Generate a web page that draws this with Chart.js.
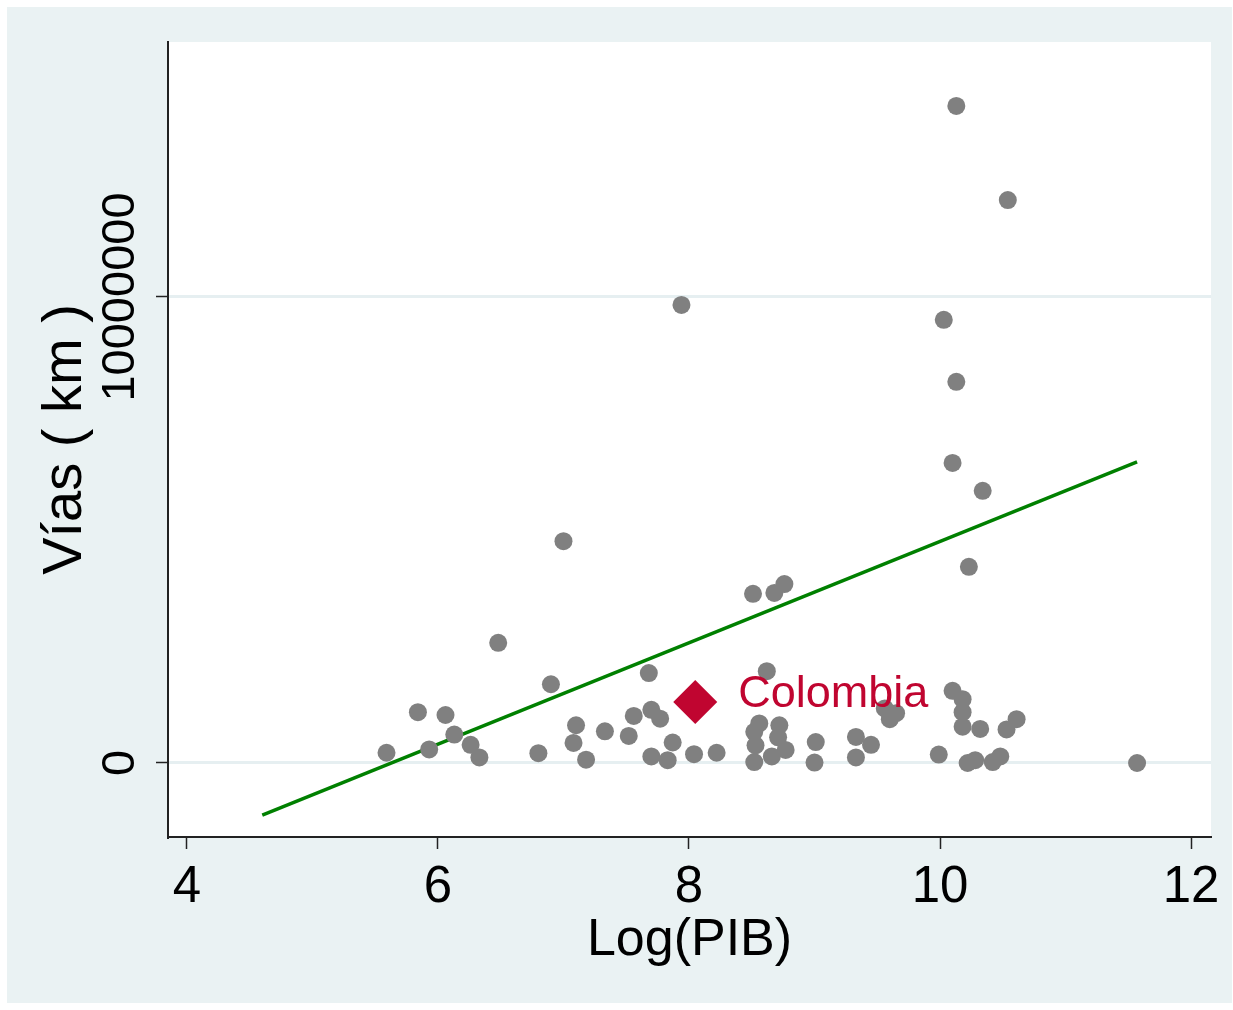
<!doctype html>
<html lang="es">
<head>
<meta charset="utf-8">
<title>Vías vs Log(PIB)</title>
<script src="https://cdn.jsdelivr.net/npm/chart.js@4.4.0/dist/chart.umd.min.js"></script>
<style>
  html, body { margin: 0; padding: 0; background: #fff; }
  canvas { display: block; }
</style>
</head>
<body>
<canvas id="myChart" width="1233" height="1010"></canvas>
<script>
// country points: log GDP vs road km
var logPib = [
  10.13, 10.54, 7.94, 10.03, 10.13, 10.10, 10.34, 7.00, 10.23, 8.51,
  8.68, 8.76, 6.48, 8.62, 7.68, 6.90, 5.59, 5.84, 5.93, 6.06,
  6.13, 6.26, 6.33, 6.80, 7.10, 7.08, 7.18, 7.33, 7.56, 7.52,
  7.70, 7.77, 7.87, 7.70, 7.83, 8.04, 8.22, 8.56, 8.52, 8.53,
  8.52, 8.72, 8.71, 8.77, 8.66, 9.01, 9.00, 9.33, 9.45, 9.33,
  9.56, 9.65, 9.60, 9.99, 10.10, 10.18, 10.18, 10.18, 10.32, 10.53,
  10.61, 10.22, 10.28, 10.42, 10.48, 11.57
];
var vias = [
  14100000, 12080000, 9830000, 9510000, 8180000, 6440000, 5840000, 4760000, 4210000, 3630000,
  3650000, 3840000, 2580000, 1970000, 1930000, 1690000, 220000, 1090000, 290000, 1030000,
  610000, 390000, 120000, 210000, 810000, 430000, 70000, 680000, 1010000, 580000,
  1140000, 950000, 440000, 140000, 60000, 190000, 220000, 850000, 670000, 380000,
  20000, 810000, 550000, 280000, 140000, 450000, 10000, 560000, 390000, 120000,
  1170000, 1070000, 940000, 180000, 1550000, 1370000, 1090000, 780000, 730000, 720000,
  940000, 0, 60000, 20000, 140000, 0
];

// fitted line end points
var fitX = [4.60, 11.57];
var fitY = [-1120000, 6460000];

// highlighted country
var colLabel = "Colombia";
var colX = 8.05;
var colY = 1310000;

var xTicks = [4, 6, 8, 10, 12];
var yTicks = [0, 10000000];

let toPoints = (xs, ys) => xs.map((v, i) => ({ x: v, y: ys[i] }));

const FONT = "'Liberation Sans', Arial, Helvetica, sans-serif";

// backgrounds, tick labels (drawn here so "12" doesn't squeeze the plot), Colombia label
const stataLook = {
  id: 'stataLook',
  beforeDraw(chart) {
    const ctx = chart.ctx;
    const a = chart.chartArea;
    ctx.save();
    ctx.fillStyle = '#ffffff';
    ctx.fillRect(0, 0, chart.width, chart.height);
    ctx.fillStyle = '#eaf2f3';
    ctx.fillRect(7, 7, chart.width - 8, chart.height - 14);
    ctx.fillStyle = '#ffffff';
    ctx.fillRect(a.left, a.top, a.right - a.left, a.bottom - a.top);
    ctx.restore();
  },
  afterDraw(chart) {
    const ctx = chart.ctx;
    const ys = chart.scales.y;
    const xs = chart.scales.x;
    const a = chart.chartArea;
    ctx.save();
    ctx.fillStyle = '#000';
    ctx.font = '47px ' + FONT;
    ctx.textAlign = 'center';
    ctx.textBaseline = 'middle';
    yTicks.forEach(v => {
      ctx.save();
      ctx.translate(a.left - 47, ys.getPixelForValue(v));
      ctx.rotate(-Math.PI / 2);
      ctx.fillText(String(v), 0, 0);
      ctx.restore();
    });
    ctx.font = '51px ' + FONT;
    ctx.textBaseline = 'alphabetic';
    xTicks.forEach(v => {
      ctx.fillText(String(v), xs.getPixelForValue(v), a.bottom + 65);
    });
    ctx.fillStyle = '#c00530';
    ctx.font = '45px ' + FONT;
    ctx.textAlign = 'left';
    ctx.fillText(colLabel, xs.getPixelForValue(colX) + 43, ys.getPixelForValue(colY) + 5);
    ctx.restore();
  }
};

let showChart = () => {
  const ctx = document.getElementById('myChart');
  new Chart(ctx, {
    type: 'scatter',
    data: {
      datasets: [
        {
          label: colLabel,
          data: [{ x: colX, y: colY }],
          pointStyle: 'rectRot',
          pointRadius: 22,
          backgroundColor: '#c00530',
          borderWidth: 0
        },
        {
          label: 'Vías',
          data: toPoints(logPib, vias),
          pointRadius: 9,
          backgroundColor: '#808080',
          borderWidth: 0
        },
        {
          type: 'line',
          label: 'fit',
          data: toPoints(fitX, fitY),
          borderColor: '#008000',
          borderWidth: 3.5,
          pointRadius: 0,
          fill: false
        }
      ]
    },
    options: {
      responsive: false,
      animation: false,
      events: [],
      devicePixelRatio: 1,
      layout: { padding: { top: 42, right: 18, left: 0, bottom: 0 } },
      plugins: {
        legend: { display: false },
        tooltip: { enabled: false }
      },
      scales: {
        x: {
          type: 'linear',
          min: 3.849,
          max: 12.159,
          afterBuildTicks: s => { s.ticks = xTicks.map(v => ({ value: v })); },
          afterFit: s => { s.height = 173; },
          border: { display: true, color: '#222', width: 2 },
          grid: { drawOnChartArea: false, drawTicks: true, tickLength: 12, tickColor: '#222', tickWidth: 1.5 },
          ticks: { color: 'rgba(0,0,0,0)', font: { family: FONT, size: 1 }, maxRotation: 0 },
          title: {
            display: true,
            text: 'Log(PIB)',
            color: '#000',
            font: { family: FONT, size: 52 },
            padding: { top: 0, bottom: 38 }
          }
        },
        y: {
          type: 'linear',
          min: -1588000,
          max: 15472000,
          afterBuildTicks: s => { s.ticks = yTicks.map(v => ({ value: v })); },
          afterFit: s => { s.width = 168; },
          border: { display: true, color: '#222', width: 2 },
          grid: { color: '#e6eff1', lineWidth: 3, drawTicks: true, tickLength: 12, tickColor: '#222', tickWidth: 1.5 },
          ticks: { color: 'rgba(0,0,0,0)', font: { family: FONT, size: 1 } },
          title: {
            display: true,
            text: 'Vías ( km )',
            color: '#000',
            font: { family: FONT, size: 56 },
            padding: { top: 32, bottom: 0 }
          }
        }
      }
    },
    plugins: [stataLook]
  });
};

showChart();
</script>
</body>
</html>
